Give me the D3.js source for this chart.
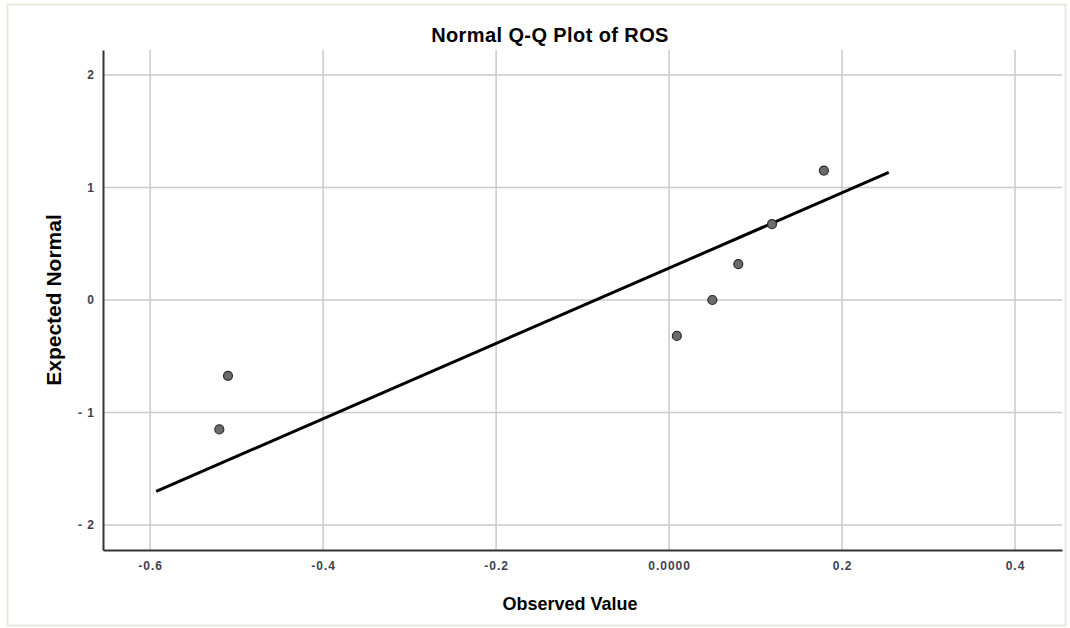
<!DOCTYPE html>
<html>
<head>
<meta charset="utf-8">
<script src="https://cdn.jsdelivr.net/npm/d3@7"></script>
<style>
  body { margin: 0; background: #fff; }
  text { font-family: "Liberation Sans", Arial, sans-serif; }
</style>
</head>
<body>
<svg id="chart"></svg>
<script>
const width = 1070;
const height = 628;

// observed values (ROS) and their expected normal scores
const observed = [-0.52, -0.51, 0.009, 0.05, 0.08, 0.119, 0.179];
const expected = [-1.15, -0.674, -0.319, 0, 0.319, 0.674, 1.15];
const xTicks = [-0.6, -0.4, -0.2, 0.0, 0.2, 0.4];
const xTickLabels = ["-0.6", "-0.4", "-0.2", "0.0000", "0.2", "0.4"];
const yTicks = [-2, -1, 0, 1, 2];
const yTickLabels = ["- 2", "- 1", "0", "1", "2"];
const lineRange = [-0.593, 0.254];

const margin = {top: 50, right: 8, bottom: 78, left: 103};

const svg = d3.select("#chart")
  .attr("width", width)
  .attr("height", height);

// light frame around the chart
svg.append("rect")
  .attr("x", 7.5).attr("y", 4.5)
  .attr("width", width - 12).attr("height", height - 7)
  .attr("fill", "#fff")
  .attr("stroke", "#e9e7de")
  .attr("stroke-width", 2);

const x = d3.scaleLinear()
  .domain([-0.6545, 0.4543])
  .range([margin.left, width - margin.right]);

const y = d3.scaleLinear()
  .domain([-2.222, 2.222])
  .range([height - margin.bottom, margin.top]);

// grid
svg.append("g")
  .selectAll("line")
  .data(xTicks)
  .join("line")
    .attr("x1", d => x(d)).attr("x2", d => x(d))
    .attr("y1", margin.top).attr("y2", height - margin.bottom)
    .attr("stroke", "#cacaca")
    .attr("stroke-width", 1.5);

svg.append("g")
  .selectAll("line")
  .data(yTicks)
  .join("line")
    .attr("x1", margin.left).attr("x2", width - margin.right)
    .attr("y1", d => y(d)).attr("y2", d => y(d))
    .attr("stroke", "#cacaca")
    .attr("stroke-width", 1.5);

// axes
const xAxis = svg.append("g")
  .attr("transform", `translate(0,${height - margin.bottom})`)
  .call(d3.axisBottom(x).tickValues(xTicks).tickSize(0)
    .tickFormat((d, i) => xTickLabels[i]));

const yAxis = svg.append("g")
  .attr("transform", `translate(${margin.left},0)`)
  .call(d3.axisLeft(y).tickValues(yTicks).tickSize(0)
    .tickFormat((d, i) => yTickLabels[d + 2]));

[xAxis, yAxis].forEach(a => {
  a.select(".domain").attr("stroke", "#333").attr("stroke-width", 2);
  a.selectAll("text")
    .attr("fill", "#3b4352")
    .style("font-size", "12px")
    .style("font-weight", "600")
    .style("letter-spacing", "1px");
});
xAxis.selectAll("text").attr("dy", "1.45em");
yAxis.selectAll("text").attr("dx", "-5px");

// fit line: y = (x - mean) / sd
const mean = d3.mean(observed);
const sd = d3.deviation(observed);

svg.append("line")
  .attr("x1", x(lineRange[0])).attr("y1", y((lineRange[0] - mean) / sd))
  .attr("x2", x(lineRange[1])).attr("y2", y((lineRange[1] - mean) / sd))
  .attr("stroke", "#000")
  .attr("stroke-width", 3);

// points
svg.append("g")
  .selectAll("circle")
  .data(observed.map((d, i) => [d, expected[i]]))
  .join("circle")
    .attr("cx", d => x(d[0]))
    .attr("cy", d => y(d[1]))
    .attr("r", 4.5)
    .attr("fill", "#6b6b6b")
    .attr("stroke", "#2a2a2a")
    .attr("stroke-width", 1.2);

// titles
svg.append("text")
  .attr("x", 550).attr("y", 42)
  .attr("text-anchor", "middle")
  .style("font-size", "20px")
  .style("font-weight", "bold")
  .style("letter-spacing", "0.4px")
  .text("Normal Q-Q Plot of ROS");

svg.append("text")
  .attr("x", 570).attr("y", 610)
  .attr("text-anchor", "middle")
  .style("font-size", "18px")
  .style("font-weight", "bold")
  .text("Observed Value");

svg.append("text")
  .attr("transform", "translate(61,300) rotate(-90)")
  .attr("text-anchor", "middle")
  .style("font-size", "21px")
  .style("font-weight", "bold")
  .text("Expected Normal");
</script>
</body>
</html>
